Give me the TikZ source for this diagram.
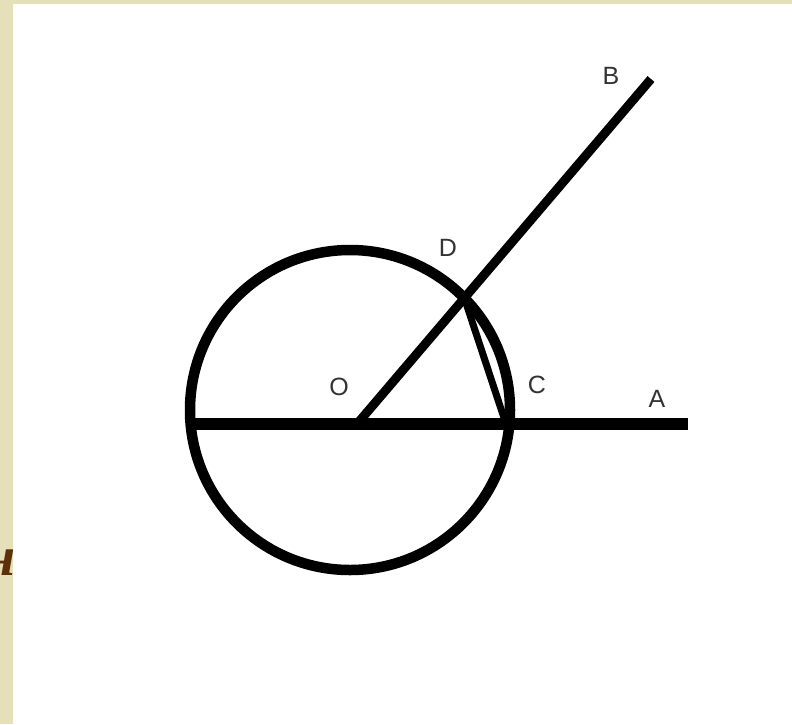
\documentclass[tikz,border=0pt]{standalone}
\usepackage{fontspec}
\setmainfont{Liberation Sans}
\newfontfamily\titlefont{Liberation Serif}
\definecolor{parch}{RGB}{229,223,186}
\definecolor{inkbrown}{RGB}{92,48,8}

\begin{document}
\begin{tikzpicture}[x=1pt,y=-1pt,
  lbl/.style={text=black!80,font=\fontsize{25}{28}\selectfont,inner sep=0pt},
  ln/.style={draw=black,line width=#1}]
\useasboundingbox (0,0) rectangle (792,724);
\fill[parch] (0,0) rectangle (792,724);
\node[anchor=base east,text=inkbrown,inner sep=0pt,
  font=\titlefont\bfseries\itshape\fontsize{56}{60}\selectfont] (cut) at (16,575) {н};
\fill[white] (13,4) rectangle (792,724);
% points of the figure
\coordinate (Z) at (350,410);
\coordinate (L) at (187,424);
\coordinate (O) at (357,424);
\coordinate (A) at (688,424);
\coordinate (B) at (651,79);
\coordinate (D) at (464,297);
\coordinate (C) at (506,424);
\draw[ln=12pt] (L) -- (A);
\draw[ln=10.5pt] (Z) circle[radius=160];
\draw[ln=9pt] (O) -- (B);
\draw[ln=7pt] (D) -- (C);
% labels
\node[lbl] (lB) at (611,76) {B};
\node[lbl] (lD) at (448,248) {D};
\node[lbl] (lO) at (339,387) {O};
\node[lbl] (lC) at (537,385) {C};
\node[lbl] (lA) at (657,399) {A};
\end{tikzpicture}
\end{document}
